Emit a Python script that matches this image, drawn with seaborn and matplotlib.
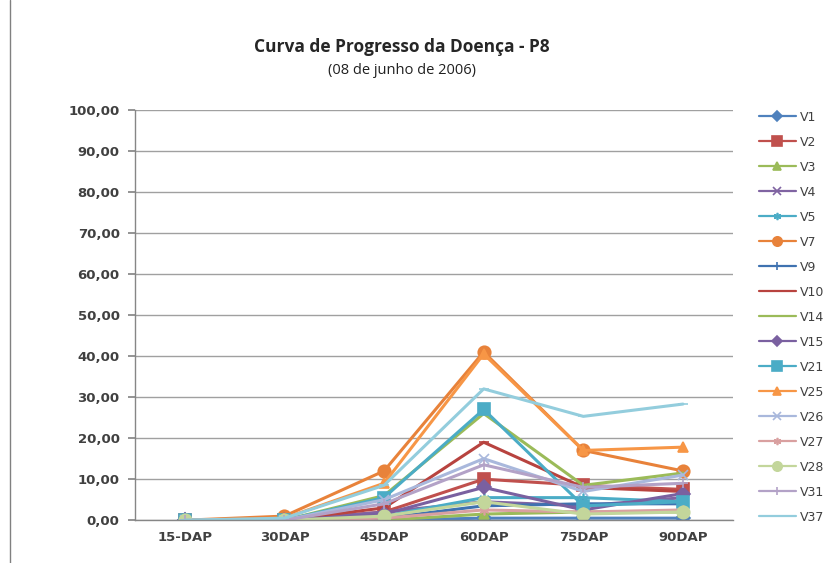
"""
Curva de Progresso da Doença - P8 (08 de junho de 2006)
"""

import matplotlib
matplotlib.use("Agg")
import matplotlib.pyplot as plt
import numpy as np
import pandas as pd
import seaborn as sns

# Datas de avaliação
avaliacoes = ["15-DAP", "30DAP", "45DAP", "60DAP", "75DAP", "90DAP"]

# Severidade (%) por variedade
v1 = [0, 0, 0, 0.5, 0.5, 0.5]
v2 = [0, 0, 2, 10, 8.5, 7.5]
v3 = [0, 0, 0, 1.5, 2, 2]
v4 = [0, 0, 2, 4.5, 3.5, 5.5]
v5 = [0, 0, 1, 5.5, 5.5, 4.5]
v7 = [0, 1, 12, 41, 17, 12]
v9 = [0, 0, 0.5, 3.5, 4, 4]
v10 = [0, 0, 3, 19, 8, 7]
v14 = [0, 0, 6, 26, 8.5, 11.5]
v15 = [0, 0, 1.5, 8, 2.5, 6.5]
v21 = [0, 0, 5.5, 27, 3.5, 4.5]
v25 = [0, 0.5, 9, 40.5, 17, 17.8]
v26 = [0, 0, 5, 15, 7, 11]
v27 = [0, 0, 0.5, 2.5, 2, 2.5]
v28 = [0, 0, 1, 4.5, 1.5, 2]
v31 = [0, 0, 4, 13.5, 8, 9]
v37 = [0, 0.5, 8.5, 32, 25.3, 28.3]

variedades = ["V1", "V2", "V3", "V4", "V5", "V7", "V9", "V10", "V14",
              "V15", "V21", "V25", "V26", "V27", "V28", "V31", "V37"]
valores = [v1, v2, v3, v4, v5, v7, v9, v10, v14,
           v15, v21, v25, v26, v27, v28, v31, v37]

# estilo tipo Excel 2007
cores = {
    "V1": "#4F81BD", "V2": "#C0504D", "V3": "#9BBB59", "V4": "#8064A2",
    "V5": "#4BACC6", "V7": "#E8823A", "V9": "#3F72B0", "V10": "#B8433F",
    "V14": "#9BBB59", "V15": "#7A60A0", "V21": "#4BACC6", "V25": "#F79646",
    "V26": "#A9B8DC", "V27": "#D9A0A0", "V28": "#C3D69B", "V31": "#B3A2C7",
    "V37": "#93CDDD",
}
asterisco = (6, 2, 0)
marcadores = {
    "V1": "D", "V2": "s", "V3": "^", "V4": "x", "V5": asterisco, "V7": "o",
    "V9": "+", "V10": "_", "V14": None, "V15": "D", "V21": "s", "V25": "^",
    "V26": "x", "V27": asterisco, "V28": "o", "V31": "+", "V37": "_",
}

df = pd.DataFrame(
    [(var, aval, y) for var, vals in zip(variedades, valores)
     for aval, y in zip(avaliacoes, vals)],
    columns=["Variedade", "Avaliacao", "Severidade"],
)
df["pos"] = df["Avaliacao"].map({a: i for i, a in enumerate(avaliacoes)})

sns.set_theme(style="white")
plt.rcParams["font.family"] = ["DejaVu Sans"]

fig = plt.figure(figsize=(8.28, 5.63), dpi=100)
ax = fig.add_axes([0.163, 0.076, 0.722, 0.729])

for var in variedades:
    m = marcadores[var]
    sub = df[df["Variedade"] == var]
    sns.lineplot(
        data=sub, x="pos", y="Severidade", ax=ax,
        color=cores[var], linewidth=2.2,
        marker=m if m is not None else "",
        markersize=9 if m in ("o", "s") else 7,
        markeredgewidth=1.2, markeredgecolor=cores[var],
        label=var, legend=False,
    )

ax.set_xlim(-0.5, 5.5)
ax.set_ylim(0, 100)
ax.set_yticks(np.arange(0, 101, 10))
ax.set_yticklabels([f"{v:.2f}".replace(".", ",") for v in range(0, 101, 10)],
                   fontsize=9.5, fontweight="bold", color="#404040")
ax.set_xticks(range(len(avaliacoes)))
ax.set_xticklabels(avaliacoes, fontsize=9.5, fontweight="bold", color="#404040")
ax.set_xticks(np.arange(-0.5, 5.6, 1), minor=True)
ax.tick_params(axis="x", which="major", length=0, pad=8)
ax.tick_params(axis="x", which="minor", length=5, color="#868686", direction="out")
ax.tick_params(axis="y", length=5, color="#868686", direction="out", left=True, pad=6)
ax.set_xlabel("")
ax.set_ylabel("")

ax.grid(axis="y", color="#A0A0A0", linewidth=1)
for lado in ["top", "right"]:
    ax.spines[lado].set_visible(False)
for lado in ["left", "bottom"]:
    ax.spines[lado].set_color("#868686")
    ax.spines[lado].set_linewidth(1)

handles, labels = ax.get_legend_handles_labels()
leg = ax.legend(handles, labels, loc="upper left", bbox_to_anchor=(1.035, 1.01),
                frameon=False, fontsize=9, handlelength=3.0, labelspacing=0.96,
                handletextpad=0.3, borderaxespad=0, markerscale=0.75)
for t in leg.get_texts():
    t.set_color("#404040")
for h in leg.get_lines():
    h.set_linewidth(1.6)

fig.text(0.485, 0.908, "Curva de Progresso da Doença - P8", ha="center",
         fontsize=12.5, fontweight="bold", family=["Open Sans", "DejaVu Sans"])
fig.text(0.485, 0.869, "(08 de junho de 2006)", ha="center",
         fontsize=10.5, color="#202020", family=["Open Sans", "DejaVu Sans"])

# borda esquerda da área do gráfico
fig.add_artist(plt.Line2D([0.012, 0.012], [0.0, 1.0], color="#808080", lw=1))

fig.savefig("out.png", dpi=100)
